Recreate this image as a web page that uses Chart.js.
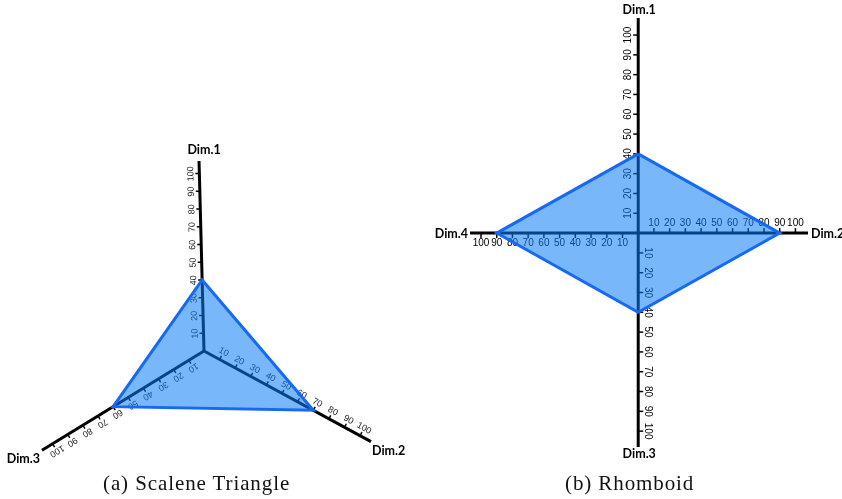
<!DOCTYPE html>
<html>
<head>
<meta charset="utf-8">
<script src="https://cdn.jsdelivr.net/npm/chart.js@4.4.0/dist/chart.umd.min.js"></script>
<style>
html, body { margin: 0; padding: 0; background: #fff; overflow: hidden; width: 842px; height: 499px; }
canvas { position: absolute; }
#tri { left: 0; top: 141px; }
#rho { left: 430px; top: 0; }
.cap { position: absolute; font-family: "Liberation Serif", serif; font-size: 21px; line-height: 20px; letter-spacing: 0.9px; color: #111; white-space: nowrap; }
</style>
</head>
<body>
<canvas id="tri" width="420" height="420"></canvas>
<canvas id="rho" width="412" height="470"></canvas>
<div class="cap" style="left:103px;top:473px">(a) Scalene Triangle</div>
<div class="cap" style="left:565px;top:473px">(b) Rhomboid</div>
<script>
// data
var triLabels = ['Dim.1', 'Dim.2', 'Dim.3'];
var triValues = [40, 70, 60];
var rhoLabels = ['Dim.1', 'Dim.2', 'Dim.3', 'Dim.4'];
var rhoValues = [40, 90, 40, 90];
var tickValues = [10, 20, 30, 40, 50, 60, 70, 80, 90, 100];

var fillColor = 'rgba(10, 125, 245, 0.55)';
var lineColor = '#1769f4';

// small tick + label perpendicular to an axis, label on the left side of the direction
function drawTick(ctx, x, y, ang, text, o) {
	var nx = Math.sin(ang), ny = -Math.cos(ang);
	ctx.beginPath();
	ctx.moveTo(x, y);
	ctx.lineTo(x + nx * o.tick, y + ny * o.tick);
	ctx.stroke();
	ctx.save();
	ctx.translate(x + nx * o.gap, y + ny * o.gap);
	var rot = ang, base = 'bottom';
	if (o.upright && Math.cos(ang) < -0.5) { rot = ang + Math.PI; base = 'top'; }
	ctx.rotate(rot);
	ctx.textAlign = 'center';
	ctx.textBaseline = base;
	ctx.fillText(text, 0, 0);
	ctx.restore();
}

function drawName(ctx, x, y, text, l) {
	ctx.save();
	ctx.font = 'bold 12.5px Lato, "Open Sans", sans-serif';
	ctx.fillStyle = '#000';
	ctx.textAlign = l.align;
	ctx.textBaseline = 'alphabetic';
	ctx.fillText(text, x + l.dx, y + l.dy);
	ctx.restore();
}

// ---------- (a) radar ----------
var triNamePos = [
	{align: 'center', dx: 5, dy: -7},
	{align: 'left', dx: 1, dy: 13},
	{align: 'right', dx: -2, dy: 13}
];

var triAxes = {
	id: 'triAxes',
	beforeDatasetsDraw: function (chart) {
		var ctx = chart.ctx, r = chart.scales.r;
		ctx.save();
		ctx.strokeStyle = '#000';
		ctx.fillStyle = '#222';
		ctx.lineWidth = 1.5;
		ctx.font = '9px "Liberation Sans", Arial, sans-serif';
		for (var i = 0; i < triLabels.length; i++) {
			tickValues.forEach(function (v) {
				var p = r.getPointPositionForValue(i, v);
				drawTick(ctx, p.x, p.y, p.angle, String(v), {tick: 4, gap: 4, upright: false});
			});
		}
		ctx.restore();
	},
	afterDatasetsDraw: function (chart) {
		var ctx = chart.ctx, r = chart.scales.r;
		for (var i = 0; i < triLabels.length; i++) {
			var e = r.getPointPosition(i, r.drawingArea);
			drawName(ctx, e.x, e.y, triLabels[i], triNamePos[i]);
		}
	}
};

new Chart(document.getElementById('tri'), {
	type: 'radar',
	data: {
		labels: triLabels,
		datasets: [{
			data: triValues,
			backgroundColor: fillColor,
			borderColor: lineColor,
			borderWidth: 3,
			pointRadius: 0,
			fill: true
		}]
	},
	options: {
		responsive: false,
		animation: false,
		layout: {padding: {left: 14, right: 26, top: 20, bottom: 20}},
		plugins: {legend: {display: false}, tooltip: {enabled: false}},
		scales: {
			r: {
				min: 0,
				max: 107,
				startAngle: -1.5,
				grid: {display: false},
				angleLines: {display: true, color: '#000', lineWidth: 3},
				pointLabels: {display: false},
				ticks: {display: false}
			}
		}
	},
	plugins: [triAxes]
});

// ---------- (b) cross axes ----------
var rhoDirs = [[0, 1], [1, 0], [0, -1], [-1, 0]];
var rhoNamePos = [
	{align: 'center', dx: 1, dy: -4},
	{align: 'left', dx: 3, dy: 5},
	{align: 'center', dx: 1, dy: 11},
	{align: 'right', dx: -2, dy: 5}
];

var rhoPoints = rhoValues.map(function (v, i) {
	return {x: v * rhoDirs[i][0], y: v * rhoDirs[i][1]};
});
rhoPoints.push(rhoPoints[0]);

function axisEnd(xs, ys, d) {
	var vx = d[0] > 0 ? xs.max : xs.min;
	var vy = d[1] > 0 ? ys.max : ys.min;
	return {x: xs.getPixelForValue(d[0] === 0 ? 0 : vx), y: ys.getPixelForValue(d[1] === 0 ? 0 : vy)};
}

var rhoAxes = {
	id: 'rhoAxes',
	beforeDatasetsDraw: function (chart) {
		var ctx = chart.ctx, xs = chart.scales.x, ys = chart.scales.y;
		var cx = xs.getPixelForValue(0), cy = ys.getPixelForValue(0);
		ctx.save();
		ctx.strokeStyle = '#000';
		ctx.lineWidth = 3;
		rhoDirs.forEach(function (d) {
			var e = axisEnd(xs, ys, d);
			ctx.beginPath();
			ctx.moveTo(cx, cy);
			ctx.lineTo(e.x, e.y);
			ctx.stroke();
		});
		ctx.lineWidth = 1.5;
		ctx.fillStyle = '#000';
		ctx.font = '10px "Liberation Sans Narrow", "Arial Narrow", sans-serif';
		rhoDirs.forEach(function (d) {
			tickValues.forEach(function (v) {
				var px = xs.getPixelForValue(v * d[0]), py = ys.getPixelForValue(v * d[1]);
				var ang = Math.atan2(py - cy, px - cx);
				drawTick(ctx, px, py, ang, String(v), {tick: 5, gap: 5, upright: true});
			});
		});
		ctx.restore();
	},
	afterDatasetsDraw: function (chart) {
		var ctx = chart.ctx, xs = chart.scales.x, ys = chart.scales.y;
		rhoDirs.forEach(function (d, i) {
			var e = axisEnd(xs, ys, d);
			drawName(ctx, e.x, e.y, rhoLabels[i], rhoNamePos[i]);
		});
	}
};

new Chart(document.getElementById('rho'), {
	type: 'scatter',
	data: {
		datasets: [{
			data: rhoPoints,
			showLine: true,
			backgroundColor: fillColor,
			borderColor: lineColor,
			borderWidth: 3,
			pointRadius: 0,
			fill: 'shape'
		}]
	},
	options: {
		responsive: false,
		animation: false,
		layout: {padding: {left: 40, right: 34, top: 18, bottom: 23}},
		plugins: {legend: {display: false}, tooltip: {enabled: false}},
		scales: {
			x: {type: 'linear', display: false, min: -107, max: 108},
			y: {type: 'linear', display: false, min: -108, max: 108.6}
		}
	},
	plugins: [rhoAxes]
});
</script>
</body>
</html>
